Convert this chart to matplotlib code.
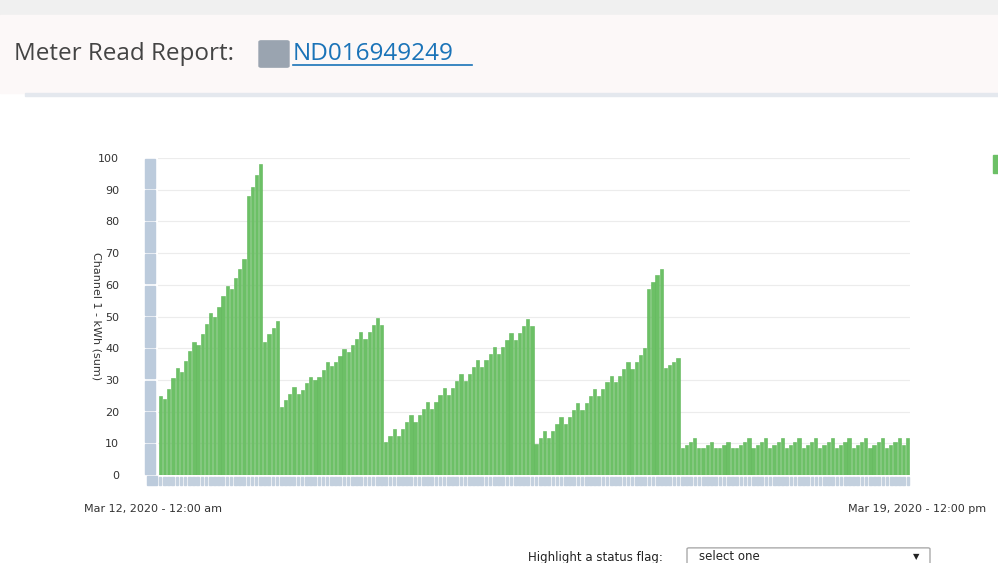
import matplotlib.pyplot as plt
import matplotlib.patches as mpatches

# hourly kWh readings, Mar 12 00:00 .. Mar 19 12:00 (180 bars)
seg1 = [25, 24, 27, 30.5, 33.6, 32.6, 36, 39, 42, 41, 44.6, 47.7, 51, 50, 53, 56.6,
        59.7, 58.7, 62, 65, 68, 88, 91, 94.6, 98, 42, 44.5, 46.5, 48.7]
seg2 = [21.5, 23.7, 25.7, 27.9, 25.7, 26.8, 29, 31, 30, 31, 33, 35.5, 34.5, 35.5,
        37.6, 39.9, 38.8, 40.9, 43, 45, 43, 45, 47.4, 49.6, 47.4]
seg3 = [10.3, 12.3, 14.5, 12.3, 14.5, 16.7, 18.8, 16.7, 18.8, 20.9, 23.1, 20.9, 23.1,
        25.3, 27.5, 25.3, 27.5, 29.7, 31.9, 29.7, 31.9, 34, 36.2, 34, 36.2, 38.3,
        40.5, 38.3, 40.5, 42.7, 44.9, 42.7, 44.9, 47, 49.2, 47]
seg4 = [9.8, 11.8, 14, 11.8, 14, 16.2, 18.4, 16.2, 18.4, 20.6, 22.7, 20.6, 22.7, 24.9,
        27.1, 24.9, 27.1, 29.2, 31.3, 29.2, 31.3, 33.5, 35.8, 33.5, 35.8, 37.9, 40,
        58.7, 60.9, 63.1, 65.1, 33.6, 34.7, 35.8, 36.8]
seg5 = [8.4, 9.5, 10.5, 11.6, 8.4, 8.4, 9.5, 10.5, 8.4, 8.4, 9.5, 10.5, 8.4, 8.4, 9.5,
        10.5, 11.6, 8.4, 9.5, 10.5, 11.6, 8.4, 9.5, 10.5, 11.6, 8.4, 9.5, 10.5, 11.6,
        8.4, 9.5, 10.5, 11.6, 8.4, 9.5, 10.5, 11.6, 8.4, 9.5, 10.5, 11.6, 8.4, 9.5,
        10.5, 11.6, 8.4, 9.5, 10.5, 11.6, 8.4, 9.5, 10.5, 11.6, 9.5, 11.6]
values = seg1 + seg2 + seg3 + seg4 + seg5
y_ticks = [0, 10, 20, 30, 40, 50, 60, 70, 80, 90, 100]

W, H = 998, 563
fig = plt.figure(figsize=(W / 100, H / 100), dpi=100)
plt.rcParams['font.family'] = ['DejaVu Sans']

def fx(px):
    return px / W

def fy(py):
    return 1 - py / H

# page chrome
fig.patches.append(mpatches.Rectangle((0, fy(15)), 1, 15 / H, transform=fig.transFigure,
                                      color='#f0f0f0', zorder=0))
fig.patches.append(mpatches.Rectangle((0, fy(93)), 1, 78 / H, transform=fig.transFigure,
                                      color='#fcf8f8', zorder=0))
fig.patches.append(mpatches.Rectangle((fx(25), fy(96)), 1, 3 / H, transform=fig.transFigure,
                                      color='#e4e8ee', zorder=0))
fig.text(fx(14), fy(54), 'Meter Read Report:', fontsize=17.5, color='#444444', va='center',
         family='Open Sans')
fig.patches.append(mpatches.FancyBboxPatch((fx(261), fy(66)), 26 / W, 24 / H,
                                           boxstyle='round,pad=0.002', transform=fig.transFigure,
                                           color='#9aa4b0', zorder=2))
fig.text(fx(293), fy(54), 'ND016949249', fontsize=17.5, color='#1a73b8', va='center',
         family='Open Sans')
fig.lines.append(plt.Line2D([fx(293), fx(472)], [fy(65), fy(65)], transform=fig.transFigure,
                            color='#1a73b8', lw=1.2))

# chart
L, R, T, B = 158, 910, 158, 475
ax = fig.add_axes([fx(L), fy(B), (R - L) / W, (B - T) / H])
x = list(range(len(values)))
ax.bar(x, values, width=0.78, color='#6cc066', edgecolor='#5db657', linewidth=0.4)
ax.set_xlim(-0.6, len(values) - 0.4)
ax.set_ylim(0, 100)
ax.set_yticks(y_ticks)
ax.set_yticklabels([str(t) for t in y_ticks], fontsize=8, color='#333333')
ax.tick_params(axis='y', length=0, pad=28)
ax.set_xticks([])
ax.grid(axis='y', color='#ececec', lw=0.8)
ax.set_axisbelow(True)
for s in ax.spines.values():
    s.set_visible(False)
ax.set_ylabel('Channel 1 - kWh (sum)', rotation=-90, fontsize=8, color='#333333')
ax.yaxis.set_label_coords(-0.088, 0.50)

# left navigator column
for k in range(10):
    fig.patches.append(mpatches.Rectangle((fx(145), fy(T + (k + 1) * 31.7 - 1.5)), 10 / W,
                                          29.5 / H, transform=fig.transFigure,
                                          color='#bccbdc', zorder=1))
fig.patches.append(mpatches.Rectangle((fx(147), fy(485)), 10 / W, 9 / H,
                                      transform=fig.transFigure, color='#bccbdc'))
# bottom tick strip
for i in x:
    px = L + (i + 0.5) * (R - L) / len(values)
    fig.patches.append(mpatches.Rectangle((fx(px - 1.3), fy(485)), 2.6 / W, 8 / H,
                                          transform=fig.transFigure, color='#c3d0de'))

fig.text(fx(84), fy(509), 'Mar 12, 2020 - 12:00 am', fontsize=8, color='#333333', va='center')
fig.text(fx(986), fy(509), 'Mar 19, 2020 - 12:00 pm', fontsize=8, color='#333333',
         va='center', ha='right')
fig.patches.append(mpatches.Rectangle((fx(993), fy(173)), 6 / W, 18 / H,
                                      transform=fig.transFigure, color='#6cc066'))

# footer
fig.text(fx(528), fy(557), 'Highlight a status flag:', fontsize=8.5, color='#222222',
         va='center')
fig.patches.append(mpatches.FancyBboxPatch((fx(689), fy(575)), 239 / W, 26 / H,
                                           boxstyle='round,pad=0.002', transform=fig.transFigure,
                                           facecolor='white', edgecolor='#aaaaaa'))
fig.text(fx(699), fy(557), 'select one', fontsize=8.5, color='#222222', va='center')
fig.text(fx(913), fy(557), '▼', fontsize=6, color='#222222', va='center')

fig.savefig('out.png', dpi=100)
